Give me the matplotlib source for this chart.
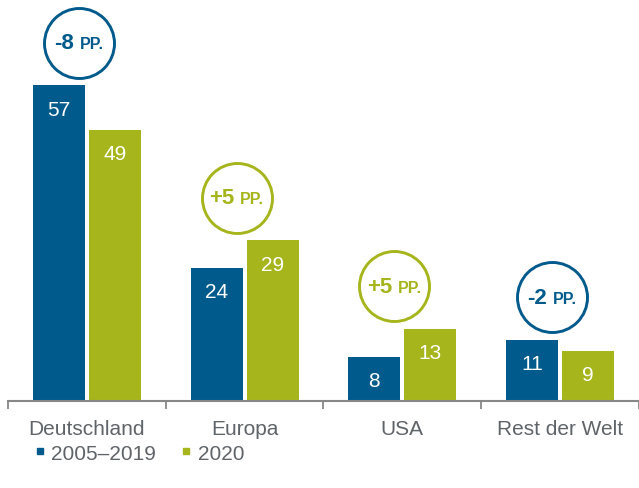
import numpy as np
import matplotlib.pyplot as plt
from matplotlib.lines import Line2D
from matplotlib.offsetbox import TextArea, HPacker, AnnotationBbox

plt.rcParams['font.family'] = ['Liberation Sans', 'DejaVu Sans']

regions = ["Deutschland", "Europa", "USA", "Rest der Welt"]
period_2005_2019 = [57, 24, 8, 11]
year_2020 = [49, 29, 13, 9]
change_pp = ["-8", "+5", "+5", "-2"]
legend_labels = ["2005\u20132019", "2020"]

blue = "#005A8C"
green = "#A6B51C"
grey = "#5F6469"

fig = plt.figure(figsize=(6.39, 4.89), dpi=100)
ax = fig.add_axes([0.0125, 0.1779, 0.9875, 0.8221])

x = np.arange(len(regions))
w = 0.33
off = 0.178
ax.bar(x - off, period_2005_2019, w, color=blue)
ax.bar(x + off, year_2020, w, color=green)

for i in range(len(regions)):
    ax.text(x[i] - off, period_2005_2019[i] - 4.3, str(period_2005_2019[i]),
            ha='center', va='center', color='white', fontsize=15)
    ax.text(x[i] + off, year_2020[i] - 4.3, str(year_2020[i]),
            ha='center', va='center', color='white', fontsize=15)

    # change bubble above the taller bar
    col = green if change_pp[i].startswith('+') else blue
    cy = max(period_2005_2019[i], year_2020[i]) + 7.7
    cx = x[i] - 0.05
    ax.scatter([cx], [cy], s=2540, facecolor='white', edgecolor=col,
               linewidth=2.1, zorder=3, clip_on=False)
    box = HPacker(children=[
        TextArea(change_pp[i], textprops=dict(color=col, fontsize=16, fontweight='bold')),
        TextArea("PP.", textprops=dict(color=col, fontsize=11.5, fontweight='bold')),
    ], align='baseline', pad=0, sep=4)
    ab = AnnotationBbox(box, (cx, cy), frameon=False, box_alignment=(0.5, 0.5), zorder=4)
    ax.add_artist(ab)

ax.set_xlim(-0.5, 3.5)
ax.set_ylim(0, 72.6)
ax.set_xticks(x)
ax.set_xticklabels(regions, fontsize=15, color=grey)
ax.set_xticks(np.arange(-0.5, 4, 1), minor=True)
ax.tick_params(axis='x', which='major', length=0, pad=13)
ax.tick_params(axis='x', which='minor', length=6, width=1.3, color='#888888', direction='out')
ax.set_yticks([])
for s in ['top', 'right', 'left']:
    ax.spines[s].set_visible(False)
ax.spines['bottom'].set_color('#888888')
ax.spines['bottom'].set_linewidth(1.5)

handles = [Line2D([], [], marker='s', linestyle='none', color=blue, markersize=4.3),
           Line2D([], [], marker='s', linestyle='none', color=green, markersize=4.3)]
leg = fig.legend(handles, legend_labels, loc='center left',
                 bbox_to_anchor=(0.025, 1 - 454 / 489), ncol=2, frameon=False,
                 handlelength=0.5, handletextpad=0.3, columnspacing=1.2, fontsize=15)
for t in leg.get_texts():
    t.set_color(grey)

fig.savefig("out.png", dpi=100)
